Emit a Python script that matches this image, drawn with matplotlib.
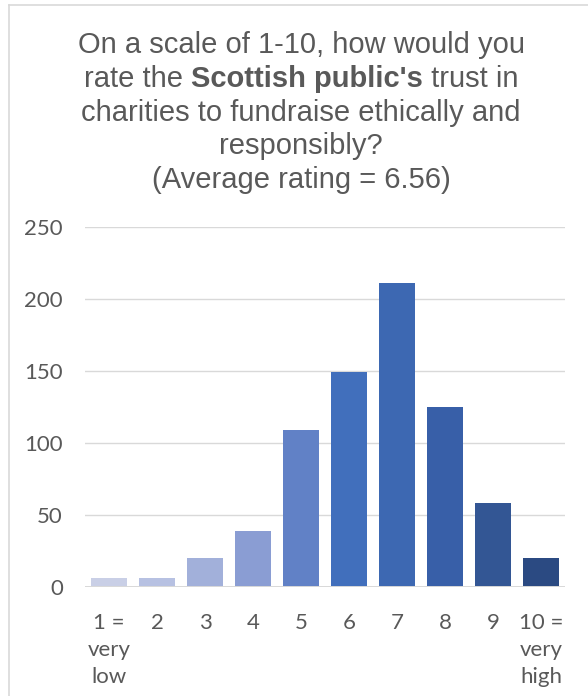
import matplotlib.pyplot as plt
from matplotlib.lines import Line2D

# survey results: number of respondents per rating
ratings = ["1 =\nvery\nlow", "2", "3", "4", "5", "6", "7", "8", "9", "10 =\nvery\nhigh"]
counts = [6, 6, 20, 39, 109, 149, 211, 125, 58, 20]
y_ticks = [0, 50, 100, 150, 200, 250]

bar_colors = ["#c9cfe6", "#b7c1e2", "#a2b0da", "#8a9dd3", "#6181c6",
              "#416fbc", "#3d68b2", "#385fa8", "#335694", "#2b4a82"]
text_color = "#595959"
grid_color = "#d9d9d9"

W, H = 588, 696
fig = plt.figure(figsize=(W / 100, H / 100), dpi=100)

ax = fig.add_axes([85 / W, 1 - 586.7 / H, 480 / W, (586.7 - 227.3) / H])
x = list(range(len(counts)))
ax.bar(x, counts, width=0.77, color=bar_colors, zorder=3)
ax.set_xlim(-0.5, len(counts) - 0.5)
ax.set_ylim(0, 250)
ax.set_yticks(y_ticks)
ax.set_xticks(x)
ax.set_xticklabels(ratings, linespacing=1.45, multialignment="center")
ax.grid(axis="y", color=grid_color, linewidth=1.0, zorder=0)
ax.axhline(0, color=grid_color, linewidth=1.4, zorder=4)
for s in ax.spines.values():
    s.set_visible(False)
ax.tick_params(axis="both", length=0, labelcolor=text_color, labelsize=16)
ax.tick_params(axis="y", pad=16)
ax.tick_params(axis="x", pad=19)
for lbl in ax.get_xticklabels() + ax.get_yticklabels():
    lbl.set_fontfamily("Lato")

# chart border (left and top edges)
fig.add_artist(Line2D([8.5 / W, 8.5 / W], [0, 1 - 5 / H], color=grid_color, lw=1.2))
fig.add_artist(Line2D([8.5 / W, 1], [1 - 5 / H, 1 - 5 / H], color=grid_color, lw=1.2))

# title, with the bold phrase on the second line
cx = 301 / W
tkw = dict(fontsize=21, color=text_color, family="Liberation Sans", va="baseline")
baselines = [53.3, 87.0, 120.7, 154.4, 188.0]
fig.text(cx, 1 - baselines[0] / H, "On a scale of 1-10, how would you", ha="center", **tkw)
fig.text(cx, 1 - baselines[2] / H, "charities to fundraise ethically and", ha="center", **tkw)
fig.text(cx, 1 - baselines[3] / H, "responsibly?", ha="center", **tkw)
fig.text(cx, 1 - baselines[4] / H, "(Average rating = 6.56)", ha="center", **tkw)

parts = [("rate the ", "normal"), ("Scottish public's", "bold"), (" trust in", "normal")]
renderer = fig.canvas.get_renderer()
pieces = []
for txt, wt in parts:
    t = fig.text(0, 1 - baselines[1] / H, txt, ha="left", fontweight=wt, **tkw)
    pieces.append(t)
widths = [p.get_window_extent(renderer).width for p in pieces]
start = cx * W - sum(widths) / 2
for p, w in zip(pieces, widths):
    p.set_x(start / W)
    start += w

fig.savefig("out.png", dpi=100)
